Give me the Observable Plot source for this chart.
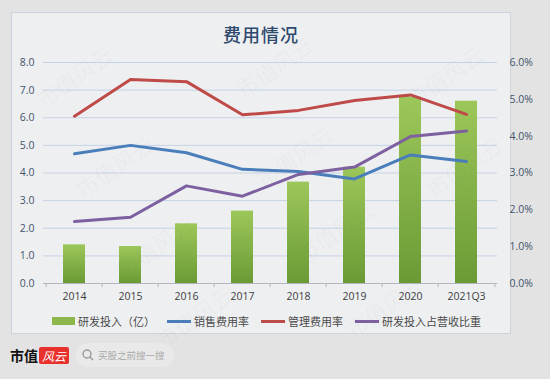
<!DOCTYPE html>
<html><head><meta charset="utf-8">
<script src="https://cdn.jsdelivr.net/npm/d3@7"></script>
<script src="https://cdn.jsdelivr.net/npm/@observablehq/plot@0.6"></script>
<style>
html,body{margin:0;padding:0;}
body{width:550px;height:379px;background:#e3e3e3;position:relative;overflow:hidden;font-family:"Noto Sans CJK SC","Noto Sans",sans-serif;}
#panel{position:absolute;left:11px;top:12px;width:500px;height:322px;background:#eeeff1;border:1px solid #cbd4df;box-sizing:border-box;}
#title{position:absolute;left:11px;width:500px;top:21px;text-align:center;font-size:18px;font-weight:500;color:#2f4a6e;letter-spacing:1px;}
#chart{position:absolute;left:0;top:50px;}
#legend{position:absolute;top:313px;left:52px;display:flex;align-items:center;font-size:11px;color:#4a4a4a;white-space:nowrap;}
#legend .it{display:flex;align-items:center;margin-right:12px;}
#legend .sw{display:inline-block;margin-right:3px;}
#footer{position:absolute;left:10px;top:343px;display:flex;align-items:center;}
.brand{font-size:14px;font-weight:700;color:#111;font-family:"Noto Sans CJK SC";}
.logo{background:#e8302d;color:#fff;font-size:12px;font-style:italic;padding:0 3px;height:17px;line-height:17px;margin-left:1px;border-radius:2px;}
.search{margin-left:7px;background:#e9e9e9;border-radius:12px;height:24px;width:98px;display:flex;align-items:center;font-size:9.5px;color:#a9a9a9;}
.wm{position:absolute;font-size:22px;color:rgba(90,90,90,0.045);transform:rotate(-35deg);white-space:nowrap;pointer-events:none;font-family:"Noto Sans CJK SC";}
</style></head>
<body>
<div id="panel"></div>
<div id="title">费用情况</div>
<div id="chart"></div>
<div id="legend"></div>
<div id="footer">
  <span class="brand">市值</span><span class="logo">风云</span>
  <span class="search"><svg width="22" height="14" viewBox="0 0 22 14"><circle cx="11" cy="6" r="4" fill="none" stroke="#999" stroke-width="1.4"/><line x1="14" y1="9" x2="17" y2="12" stroke="#999" stroke-width="1.4"/></svg>买股之前搜一搜</span>
</div>
<script>
const years = ["2014","2015","2016","2017","2018","2019","2020","2021Q3"];
const rdSpend = [1.40, 1.34, 2.16, 2.62, 3.67, 4.21, 6.75, 6.60];          // 研发投入（亿）
const salesRate = [3.52, 3.75, 3.55, 3.10, 3.04, 2.84, 3.49, 3.31];       // 销售费用率 %
const mgmtRate = [4.54, 5.54, 5.48, 4.58, 4.70, 4.97, 5.12, 4.59];        // 管理费用率 %
const rdRatio = [1.68, 1.80, 2.65, 2.37, 2.96, 3.16, 3.99, 4.14];         // 研发投入占营收比重 %
const leftTicks = [0, 1, 2, 3, 4, 5, 6, 7, 8];
const rightTicks = [0, 1, 2, 3, 4, 5, 6];
const seriesNames = ["研发投入（亿）", "销售费用率", "管理费用率", "研发投入占营收比重"];
const colors = {bar: "#8cb84b", sales: "#4a7ebb", mgmt: "#be4b48", ratio: "#7d60a0"};

const k = 8 / 6; // right axis (%) to left axis units
const data = years.map((y, i) => ({year: y, rd: rdSpend[i], sales: salesRate[i], mgmt: mgmtRate[i], ratio: rdRatio[i]}));
const step = 454 / years.length;

const chart = Plot.plot({
  width: 550, height: 260,
  marginTop: 12, marginBottom: 27, marginLeft: 43, marginRight: 53,
  style: {background: "transparent", overflow: "visible"},
  x: {type: "band", domain: years, paddingInner: 0.6, paddingOuter: 0.3, axis: null, label: null},
  y: {domain: [0, 8], axis: null, label: null},
  marks: [
    Plot.ruleY(leftTicks.filter(d => d > 0), {stroke: "#c5d3e6", strokeWidth: 1}),
    Plot.axisY(leftTicks, {anchor: "left", label: null, tickSize: 0, tickPadding: 9, tickFormat: d => d.toFixed(1), fontSize: 10.5, fill: "#44546a", fontFamily: "Open Sans"}),
    Plot.axisY(rightTicks.map(d => d * k), {anchor: "right", label: null, tickSize: 0, tickPadding: 12, tickFormat: d => (d / k).toFixed(1) + "%", fontSize: 10.5, fill: "#44546a", fontFamily: "Open Sans"}),
    Plot.barY(data, {x: "year", y: "rd", fill: "url(#barGrad)"}),
    Plot.ruleY([0], {stroke: "#b0b6bf", strokeWidth: 1}),
    Plot.ruleX(years, {x: d => d, dx: -step / 2, y1: 0, y2: -0.15, stroke: "#b0b6bf"}),
    Plot.ruleX([years[years.length - 1]], {x: d => d, dx: step / 2, y1: 0, y2: -0.15, stroke: "#b0b6bf"}),
    Plot.line(data, {x: "year", y: d => d.mgmt * k, stroke: colors.mgmt, strokeWidth: 3}),
    Plot.line(data, {x: "year", y: d => d.sales * k, stroke: colors.sales, strokeWidth: 3}),
    Plot.line(data, {x: "year", y: d => d.ratio * k, stroke: colors.ratio, strokeWidth: 3}),
    Plot.axisX({label: null, tickSize: 0, tickPadding: 9, fontSize: 10.5, fill: "#404040", fontFamily: "Open Sans"})
  ]
});
d3.select(chart).insert("defs", ":first-child").html(
  '<linearGradient id="barGrad" x1="0" y1="0" x2="0" y2="1">' +
  '<stop offset="0" stop-color="#9cc75a"/><stop offset="1" stop-color="#6b9a35"/></linearGradient>');
document.getElementById("chart").appendChild(chart);

// legend
const leg = document.getElementById("legend");
const swatches = [
  `<span class="sw" style="width:23px;height:8px;background:${colors.bar}"></span>`,
  `<span class="sw" style="width:24px;height:3px;background:${colors.sales}"></span>`,
  `<span class="sw" style="width:24px;height:3px;background:${colors.mgmt}"></span>`,
  `<span class="sw" style="width:24px;height:3px;background:${colors.ratio}"></span>`
];
leg.innerHTML = seriesNames.map((n, i) => `<span class="it">${swatches[i]}${n}</span>`).join("");

// watermarks
const wmPos = [[30,60],[230,50],[400,60],[70,150],[250,140],[420,150],[110,230],[290,215],[150,300],[340,290]];
for (const [x, y] of wmPos) {
  const w = document.createElement("div");
  w.className = "wm"; w.textContent = "市值风云";
  w.style.left = x + "px"; w.style.top = y + "px";
  document.body.appendChild(w);
}
</script>
</body></html>
